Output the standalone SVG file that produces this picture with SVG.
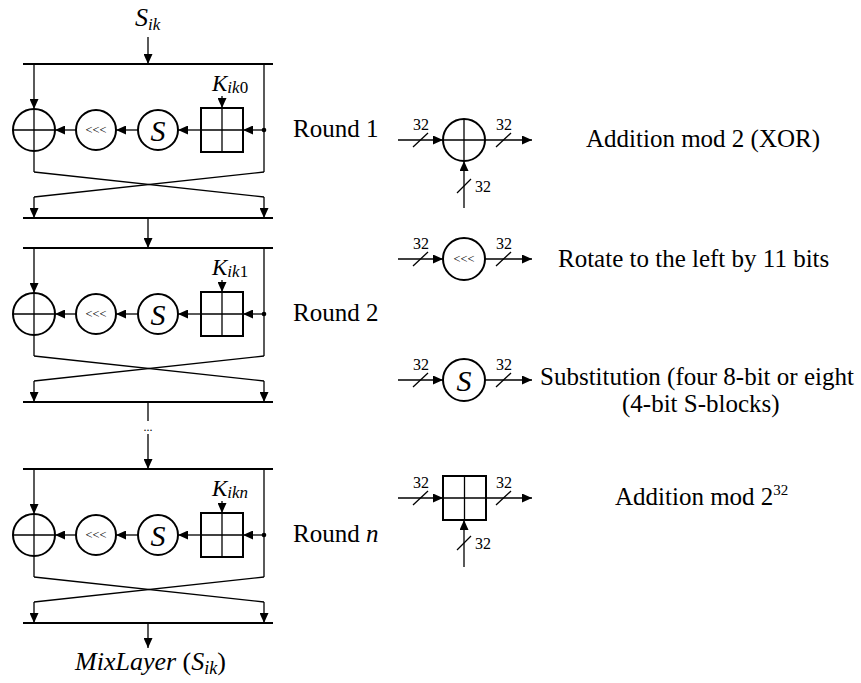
<svg xmlns="http://www.w3.org/2000/svg" width="861" height="683" viewBox="0 0 861 683">
<style>
.ln{stroke:#000;stroke-width:1.3;fill:none}
.bar{stroke:#000;stroke-width:2;fill:none}
.nd{stroke:#000;stroke-width:2;fill:#fff}
.thin{stroke:#000;stroke-width:1.3;fill:none}
.ar{marker-end:url(#ah)}
text{font-family:"Liberation Serif","Times New Roman",serif;fill:#000}
.lbl{font-size:25px}
.it{font-style:italic}
.num{font-size:16px}
.rot{font-size:12.5px}
.sym{font-size:30px;font-style:italic}
</style>
<defs>
<marker id="ah" markerUnits="userSpaceOnUse" markerWidth="10" markerHeight="9" refX="10" refY="4.5" orient="auto">
<path d="M0,0 L10,4.5 L0,9 z" fill="#000"/>
</marker>
</defs>

<g id="input-label">
<text x="135" y="26" class="it" font-size="26">S<tspan font-size="17" dy="4">ik</tspan></text>
</g>

<g id="round1">
<g id="r1-xor"><circle class="nd" cx="34" cy="130" r="21"/><line class="thin" x1="13" y1="130" x2="55" y2="130"/><line class="thin" x1="34" y1="109" x2="34" y2="151"/></g>
<g id="r1-rot"><circle class="nd" cx="96" cy="130" r="20"/><text class="rot" x="96" y="134" text-anchor="middle">&lt;&lt;&lt;</text></g>
<g id="r1-sbox"><circle class="nd" cx="158" cy="130" r="20"/><text class="sym" x="158" y="141" text-anchor="middle">S</text></g>
<g id="r1-add"><rect class="nd" x="201" y="108" width="42" height="44"/><line class="thin" x1="222" y1="108" x2="222" y2="152"/><line class="thin" x1="201" y1="130" x2="243" y2="130"/></g>
<g id="r1-key"><text x="212" y="91" class="it" font-size="23">K<tspan font-size="17" dy="2">ik</tspan><tspan font-size="17" font-style="normal">0</tspan></text></g>
<g id="r1-split"><circle cx="264" cy="130" r="2.3" fill="#000"/></g>
<g id="r1-label"><text class="lbl" x="293" y="137">Round 1</text></g>
</g>

<g id="round2" transform="translate(0,184)">
<g id="r2-xor"><circle class="nd" cx="34" cy="130" r="21"/><line class="thin" x1="13" y1="130" x2="55" y2="130"/><line class="thin" x1="34" y1="109" x2="34" y2="151"/></g>
<g id="r2-rot"><circle class="nd" cx="96" cy="130" r="20"/><text class="rot" x="96" y="134" text-anchor="middle">&lt;&lt;&lt;</text></g>
<g id="r2-sbox"><circle class="nd" cx="158" cy="130" r="20"/><text class="sym" x="158" y="141" text-anchor="middle">S</text></g>
<g id="r2-add"><rect class="nd" x="201" y="108" width="42" height="44"/><line class="thin" x1="222" y1="108" x2="222" y2="152"/><line class="thin" x1="201" y1="130" x2="243" y2="130"/></g>
<g id="r2-key"><text x="212" y="91" class="it" font-size="23">K<tspan font-size="17" dy="2">ik</tspan><tspan font-size="17" font-style="normal">1</tspan></text></g>
<g id="r2-split"><circle cx="264" cy="130" r="2.3" fill="#000"/></g>
<g id="r2-label"><text class="lbl" x="293" y="137">Round 2</text></g>
</g>

<g id="roundn" transform="translate(0,405)">
<g id="rn-xor"><circle class="nd" cx="34" cy="130" r="21"/><line class="thin" x1="13" y1="130" x2="55" y2="130"/><line class="thin" x1="34" y1="109" x2="34" y2="151"/></g>
<g id="rn-rot"><circle class="nd" cx="96" cy="130" r="20"/><text class="rot" x="96" y="134" text-anchor="middle">&lt;&lt;&lt;</text></g>
<g id="rn-sbox"><circle class="nd" cx="158" cy="130" r="20"/><text class="sym" x="158" y="141" text-anchor="middle">S</text></g>
<g id="rn-add"><rect class="nd" x="201" y="108" width="42" height="44"/><line class="thin" x1="222" y1="108" x2="222" y2="152"/><line class="thin" x1="201" y1="130" x2="243" y2="130"/></g>
<g id="rn-key"><text x="212" y="91" class="it" font-size="23">K<tspan font-size="17" dy="2">ikn</tspan></text></g>
<g id="rn-split"><circle cx="264" cy="130" r="2.3" fill="#000"/></g>
<g id="rn-label"><text class="lbl" x="293" y="137">Round <tspan class="it">n</tspan></text></g>
</g>

<g id="output-label">
<text x="75" y="670" font-size="26"><tspan class="it">MixLayer</tspan> (<tspan class="it">S</tspan><tspan class="it" font-size="18" dy="4">ik</tspan><tspan dy="-4">)</tspan></text>
</g>

<g id="dots"><text x="148" y="431" text-anchor="middle" font-size="12">...</text></g>

<g id="connectors">
<line class="ln ar" x1="148" y1="37" x2="148" y2="64"/>
<line class="ln ar" x1="148" y1="218" x2="148" y2="248"/>
<line class="ln" x1="148" y1="402" x2="148" y2="421"/>
<line class="ln ar" x1="148" y1="434" x2="148" y2="469"/>
<line class="ln ar" x1="148" y1="623" x2="148" y2="648"/>
<g id="c-r1">
<line class="bar" x1="23" y1="64" x2="273" y2="64"/>
<line class="ln ar" x1="34" y1="64" x2="34" y2="109"/>
<line class="ln" x1="264" y1="64" x2="264" y2="172"/>
<line class="ln ar" x1="264" y1="130" x2="243" y2="130"/>
<line class="ln ar" x1="201" y1="130" x2="178" y2="130"/>
<line class="ln ar" x1="138" y1="130" x2="116" y2="130"/>
<line class="ln ar" x1="76" y1="130" x2="55" y2="130"/>
<line class="ln ar" x1="222" y1="96" x2="222" y2="108"/>
<line class="ln" x1="34" y1="151" x2="34" y2="172"/>
<line class="ln" x1="34" y1="172" x2="264" y2="197"/>
<line class="ln" x1="264" y1="172" x2="34" y2="197"/>
<line class="ln ar" x1="34" y1="197" x2="34" y2="218"/>
<line class="ln ar" x1="264" y1="197" x2="264" y2="218"/>
<line class="bar" x1="23" y1="218" x2="273" y2="218"/>
</g>
<g id="c-r2" transform="translate(0,184)">
<line class="bar" x1="23" y1="64" x2="273" y2="64"/>
<line class="ln ar" x1="34" y1="64" x2="34" y2="109"/>
<line class="ln" x1="264" y1="64" x2="264" y2="172"/>
<line class="ln ar" x1="264" y1="130" x2="243" y2="130"/>
<line class="ln ar" x1="201" y1="130" x2="178" y2="130"/>
<line class="ln ar" x1="138" y1="130" x2="116" y2="130"/>
<line class="ln ar" x1="76" y1="130" x2="55" y2="130"/>
<line class="ln ar" x1="222" y1="96" x2="222" y2="108"/>
<line class="ln" x1="34" y1="151" x2="34" y2="172"/>
<line class="ln" x1="34" y1="172" x2="264" y2="197"/>
<line class="ln" x1="264" y1="172" x2="34" y2="197"/>
<line class="ln ar" x1="34" y1="197" x2="34" y2="218"/>
<line class="ln ar" x1="264" y1="197" x2="264" y2="218"/>
<line class="bar" x1="23" y1="218" x2="273" y2="218"/>
</g>
<g id="c-rn" transform="translate(0,405)">
<line class="bar" x1="23" y1="64" x2="273" y2="64"/>
<line class="ln ar" x1="34" y1="64" x2="34" y2="109"/>
<line class="ln" x1="264" y1="64" x2="264" y2="172"/>
<line class="ln ar" x1="264" y1="130" x2="243" y2="130"/>
<line class="ln ar" x1="201" y1="130" x2="178" y2="130"/>
<line class="ln ar" x1="138" y1="130" x2="116" y2="130"/>
<line class="ln ar" x1="76" y1="130" x2="55" y2="130"/>
<line class="ln ar" x1="222" y1="96" x2="222" y2="108"/>
<line class="ln" x1="34" y1="151" x2="34" y2="172"/>
<line class="ln" x1="34" y1="172" x2="264" y2="197"/>
<line class="ln" x1="264" y1="172" x2="34" y2="197"/>
<line class="ln ar" x1="34" y1="197" x2="34" y2="218"/>
<line class="ln ar" x1="264" y1="197" x2="264" y2="218"/>
<line class="bar" x1="23" y1="218" x2="273" y2="218"/>
</g>
<g id="c-legend">
<line class="ln ar" x1="398" y1="140" x2="443" y2="140"/>
<line class="ln ar" x1="485" y1="140" x2="532" y2="140"/>
<line class="ln ar" x1="464" y1="208" x2="464" y2="161"/>
<line class="ln" x1="413" y1="147" x2="428" y2="133"/>
<line class="ln" x1="496" y1="147" x2="511" y2="133"/>
<line class="ln" x1="457" y1="193" x2="471" y2="179"/>
<line class="ln ar" x1="398" y1="259" x2="443" y2="259"/>
<line class="ln ar" x1="485" y1="259" x2="532" y2="259"/>
<line class="ln" x1="413" y1="266" x2="428" y2="252"/>
<line class="ln" x1="496" y1="266" x2="511" y2="252"/>
<line class="ln ar" x1="398" y1="380" x2="443" y2="380"/>
<line class="ln ar" x1="485" y1="380" x2="532" y2="380"/>
<line class="ln" x1="413" y1="387" x2="428" y2="373"/>
<line class="ln" x1="496" y1="387" x2="511" y2="373"/>
<line class="ln ar" x1="398" y1="498" x2="443" y2="498"/>
<line class="ln ar" x1="486" y1="498" x2="532" y2="498"/>
<line class="ln ar" x1="464" y1="567" x2="464" y2="520"/>
<line class="ln" x1="413" y1="505" x2="428" y2="491"/>
<line class="ln" x1="496" y1="505" x2="511" y2="491"/>
<line class="ln" x1="457" y1="550" x2="471" y2="536"/>
</g>
</g>

<g id="legend-xor">
<circle class="nd" cx="464" cy="140" r="21"/>
<line class="thin" x1="443" y1="140" x2="485" y2="140"/>
<line class="thin" x1="464" y1="119" x2="464" y2="161"/>
<text class="num" x="421" y="130" text-anchor="middle">32</text>
<text class="num" x="504" y="130" text-anchor="middle">32</text>
<text class="num" x="475" y="192">32</text>
<text class="lbl" x="586" y="147">Addition mod 2 (XOR)</text>
</g>
<g id="legend-rot">
<circle class="nd" cx="464" cy="259" r="21"/>
<text class="rot" x="464" y="263" text-anchor="middle">&lt;&lt;&lt;</text>
<text class="num" x="421" y="249" text-anchor="middle">32</text>
<text class="num" x="504" y="249" text-anchor="middle">32</text>
<text class="lbl" x="558" y="267">Rotate to the left by 11 bits</text>
</g>
<g id="legend-sbox">
<circle class="nd" cx="464" cy="380" r="21"/>
<text class="sym" x="464" y="391" text-anchor="middle">S</text>
<text class="num" x="421" y="370" text-anchor="middle">32</text>
<text class="num" x="504" y="370" text-anchor="middle">32</text>
<text class="lbl" x="540" y="385">Substitution (four 8-bit or eight</text>
<text class="lbl" x="622" y="412">(4-bit S-blocks)</text>
</g>
<g id="legend-add">
<rect class="nd" x="443" y="476" width="43" height="44"/>
<line class="thin" x1="464.5" y1="476" x2="464.5" y2="520"/>
<line class="thin" x1="443" y1="498" x2="486" y2="498"/>
<text class="num" x="421" y="488" text-anchor="middle">32</text>
<text class="num" x="504" y="488" text-anchor="middle">32</text>
<text class="num" x="475" y="549">32</text>
<text class="lbl" x="615" y="505">Addition mod 2<tspan font-size="15" dy="-10">32</tspan></text>
</g>
</svg>
